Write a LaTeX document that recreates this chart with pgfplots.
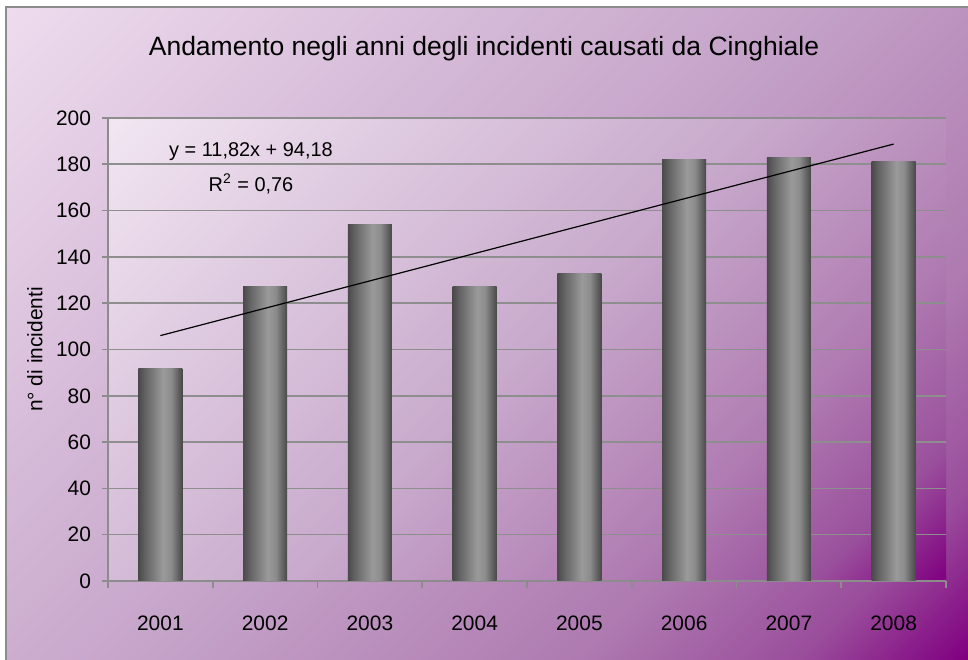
\documentclass[border=0pt]{standalone}
\usepackage{fontspec}
\setmainfont{Liberation Sans}
\usepackage{pgfplots}
\pgfplotsset{compat=1.18}

\definecolor{o0}{HTML}{EEDCEE}
\definecolor{o5}{HTML}{C4A2C8}
\definecolor{o75}{HTML}{AE7AB0}
\definecolor{o9}{HTML}{9A4E9C}
\definecolor{o10}{HTML}{800080}
\definecolor{p0}{HTML}{F2E6F2}
\definecolor{p5}{HTML}{C8AACC}
\definecolor{p75}{HTML}{B07CB2}
\definecolor{p9}{HTML}{9A509C}
\definecolor{p10}{HTML}{800080}
\definecolor{b0}{HTML}{4A4A4A}
\definecolor{b1}{HTML}{646464}
\definecolor{b2}{HTML}{9A9A9A}
\definecolor{b3}{HTML}{8C8C8C}
\definecolor{b4}{HTML}{484848}
\definecolor{gridc}{HTML}{8E8E8E}
\definecolor{axc}{HTML}{8C8C8C}

\pgfdeclarehorizontalshading{outershade}{100bp}{color(0bp)=(o0); color(14.64bp)=(o0); color(50bp)=(o5); color(68.4bp)=(o75); color(78bp)=(o9); color(85.36bp)=(o10); color(100bp)=(o10)}
\pgfdeclarehorizontalshading{plotshade}{100bp}{color(0bp)=(p0); color(14.64bp)=(p0); color(50bp)=(p5); color(67.7bp)=(p75); color(78.3bp)=(p9); color(85.36bp)=(p10); color(100bp)=(p10)}
\pgfdeclarehorizontalshading{barshade}{100bp}{color(0bp)=(b0); color(25bp)=(b0); color(33bp)=(b1); color(53bp)=(b2); color(62bp)=(b3); color(75bp)=(b4); color(100bp)=(b4)}

\begin{document}
\begin{tikzpicture}
\useasboundingbox (0,0) rectangle (484bp,330bp);
\fill[white] (0,0) rectangle (484bp,330bp);
\shade[shading=outershade, shading angle=-45] (3bp,0) rectangle (484bp,326.5bp);
\draw[axc, line width=0.8bp] (3bp,0) -- (3bp,326.5bp) -- (484bp,326.5bp);
\begin{axis}[
  at={(54bp,39.5bp)}, anchor=south west,
  width=419bp, height=231.5bp, scale only axis,
  xmin=0.5, xmax=8.5, ymin=0, ymax=200,
  ytick={0,20,...,200},
  xtick={1,...,8},
  xticklabels={2001,2002,2003,2004,2005,2006,2007,2008},
  minor xtick={0.5,1.5,...,8.5},
  axis x line*=bottom, axis y line*=left,
  axis line style={-, draw=axc, line width=0.8bp},
  ymajorgrids, grid style={draw=gridc, line width=0.8bp},
  tick align=outside,
  major tick length=3bp, minor tick length=3.5bp,
  major x tick style={draw=none},
  minor x tick style={draw=axc, line width=0.8bp},
  ytick style={draw=axc, line width=0.8bp},
  axis background/.style={shade, shading=plotshade, shading angle=-45},
  /pgf/number format/assume math mode=true,
  tick label style={font=\fontsize{10.5}{12}\selectfont},
  yticklabel style={xshift=-2bp},
  xticklabel style={yshift=-11bp},
  ylabel={n° di incidenti},
  ylabel style={at={(axis description cs:-0.0871,0.5)}, anchor=center, font=\fontsize{10.5}{12}\selectfont},
  title={Andamento negli anni degli incidenti causati da Cinghiale},
  title style={at={(axis description cs:0.4487,1.124)}, anchor=center, yshift=0pt, font=\fontsize{13.3}{16}\selectfont},
  barst/.style={ybar, bar width=22bp, draw=none, shade, shading=barshade, forget plot},
]
\addplot[barst] coordinates {(1,92)};
\addplot[barst] coordinates {(2,127)};
\addplot[barst] coordinates {(3,154)};
\addplot[barst] coordinates {(4,127)};
\addplot[barst] coordinates {(5,133)};
\addplot[barst] coordinates {(6,182)};
\addplot[barst] coordinates {(7,183)};
\addplot[barst] coordinates {(8,181)};
\addplot[black, line width=0.6bp, mark=none] coordinates {(1,106.0) (8,188.74)};
\node[font=\fontsize{10}{12}\selectfont] at (axis cs:1.865,185.3) {y = 11,82x + 94,18};
\node[font=\fontsize{10}{12}\selectfont] at (axis cs:1.865,171.5) {R\textsuperscript{2} = 0,76};
\end{axis}
\end{tikzpicture}
\end{document}
